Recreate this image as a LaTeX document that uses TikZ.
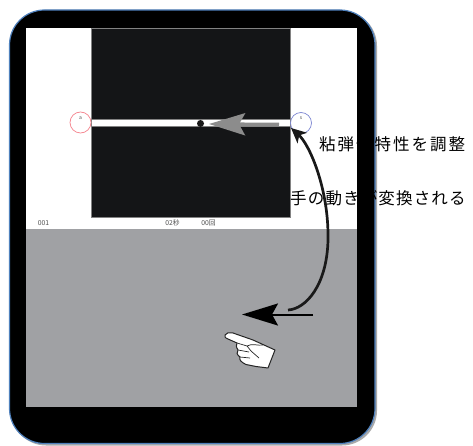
\documentclass[tikz,border=0pt]{standalone}
\usepackage{fontspec}
\usetikzlibrary{arrows.meta}
\newfontfamily\cjkone[LetterSpace=12]{Noto Sans CJK JP}
\newfontfamily\cjktwo[LetterSpace=7]{Noto Sans CJK JP}
\newfontfamily\cjksmall{Noto Sans CJK JP}
\definecolor{frameblue}{RGB}{79,129,189}
\definecolor{shadowgray}{RGB}{170,170,170}
\definecolor{panelgray}{RGB}{160,161,164}
\definecolor{darkpanel}{RGB}{20,21,23}
\definecolor{edgegray}{RGB}{130,130,130}
\definecolor{ringred}{RGB}{245,130,140}
\definecolor{ringblue}{RGB}{125,135,210}
\definecolor{tinytext}{RGB}{80,80,80}
\definecolor{arrowgray}{RGB}{140,140,140}
\tikzset{
  bigtext/.style={text=black,inner sep=0pt,anchor=west},
  tinylabel/.style={font=\cjksmall\fontsize{6.8}{7}\selectfont,text=tinytext,inner sep=0pt},
  ring/.style={circle,draw,minimum size=21pt,inner sep=0pt,line width=.7pt,fill=none},
  ringtext/.style={font=\cjksmall\fontsize{5}{5}\selectfont,text=tinytext,inner sep=0pt},
}
\begin{document}
\begin{tikzpicture}[x=1pt,y=-1pt]
\useasboundingbox (0,0) rectangle (473,446);
\fill[white] (0,0) rectangle (473,446);
% device
\fill[shadowgray,rounded corners=35pt] (11,11) rectangle (377,445.5);
\draw[frameblue,fill=black,line width=1.2pt,rounded corners=35pt] (9.5,10) rectangle (375,443.5);
% screen
\fill[white] (26,28) rectangle (357,229);
\fill[panelgray] (26,229) rectangle (357,407);
\draw[edgegray,line width=.5pt,fill=darkpanel] (91.5,28) rectangle (290,217);
\draw[edgegray,line width=.5pt,fill=white] (91.5,119.5) rectangle (290,126.5);
% rings
\node[ring,draw=ringred] (ra) at (80.5,122.5) {};
\node[ring,draw=ringblue] (rb) at (301,123) {};
\node[ringtext] (la) at (80.5,118.5) {a};
\node[ringtext] (lb) at (301,118.5) {s};
% tiny labels
\node[tinylabel] (n1) at (43.5,223) {001};
\node[tinylabel] (n2) at (172.5,223) {02秒};
\node[tinylabel] (n3) at (208.5,223) {00回};
% ball and gray arrow
\node[circle,fill=black!90,minimum size=7pt,inner sep=0pt] (ball) at (200.5,123.5) {};
\coordinate (gs) at (279,124.5);
\coordinate (ge) at (209,124);
\draw[arrowgray,line width=3.5pt,-{Stealth[length=36pt,width=22pt,inset=6pt]}] (gs) -- (ge);
% texts
\node[bigtext,font=\cjkone\fontsize{16.5}{16.5}\selectfont] (t1) at (319,144) {粘弾性特性を調整};
\node[bigtext,font=\cjktwo\fontsize{16.5}{16.5}\selectfont] (t2) at (290,198) {手の動きが変換される};
% black arrows
\coordinate (cs) at (288,310);
\coordinate (ce) at (291,128);
\draw[black!90,line width=2.7pt,-{Stealth[length=15pt,width=14pt,inset=4pt]}]
  (cs) .. controls (306,309) and (327,285) .. (328,240)
  .. controls (329,190) and (310,145) .. (ce);
\coordinate (as) at (313,314.5);
\coordinate (ae) at (242,314.5);
\draw[black,line width=2pt,-{Stealth[length=36pt,width=22pt,inset=6pt]}] (as) -- (ae);
% hand
\draw[black!85,fill=white,line width=1pt,line join=round]
  (225,335) .. controls (226,332.5) and (229,332.5) .. (233,333)
  -- (253,340) -- (275,350)
  -- (268,368) -- (256,366.5) -- (246,364.5)
  .. controls (241,362) and (239,360) .. (240,357)
  .. controls (237,355) and (236,352) .. (238,350)
  .. controls (236,347) and (236,345) .. (237,343)
  -- (228,339) .. controls (225,338) and (224,336) .. (225,335) -- cycle;
\draw[black!85,line width=.7pt] (237,343) -- (247,346) (238,350) -- (249,352) (240,357) -- (250,358)
  (247,346) .. controls (252,343) and (258,346) .. (263,345)
  (247,346) -- (251,351) -- (259,358);
\end{tikzpicture}
\end{document}
